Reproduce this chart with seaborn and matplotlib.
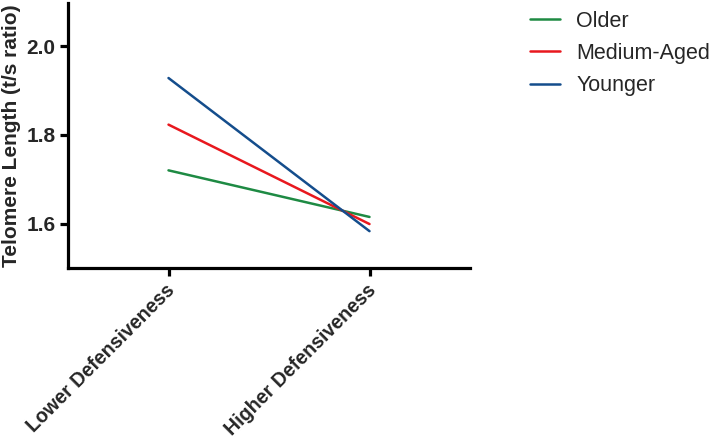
import matplotlib
matplotlib.use("Agg")
import matplotlib.pyplot as plt
import matplotlib.transforms as mtransforms
import seaborn as sns
import pandas as pd

categories = ["Lower Defensiveness", "Higher Defensiveness"]
groups = ["Older", "Medium-Aged", "Younger"]
older = [1.720, 1.615]
medium = [1.823, 1.599]
younger = [1.928, 1.583]
yticks = [1.6, 1.8, 2.0]
colors = {"Older": "#1e8a43", "Medium-Aged": "#e8181e", "Younger": "#144d8c"}

rows = []
for g, vals in zip(groups, [older, medium, younger]):
    for i, (c, v) in enumerate(zip(categories, vals)):
        rows.append({"pos": i, "cat": c, "group": g, "value": v})
df = pd.DataFrame(rows)

sns.set_style("ticks")
plt.rcParams["font.family"] = ["Liberation Sans", "DejaVu Sans"]

fig = plt.figure(figsize=(7.15, 4.45), dpi=100)
ax = fig.add_axes([68/715, 1 - 268/445, (470 - 68)/715, (268 - 3)/445])

sns.lineplot(data=df, x="pos", y="value", hue="group", hue_order=groups,
             palette=colors, linewidth=1.8, ax=ax, legend=True)

ax.set_xlim(-0.5, 1.5)
ax.set_ylim(1.5, 2.097)
ax.set_xticks([0, 1])
ax.set_xticklabels(categories, rotation=45, ha="right", rotation_mode="anchor",
                   fontsize=14.1, fontweight="bold")
ax.set_yticks(yticks)
ax.set_yticklabels([f"{t:.1f}" for t in yticks], fontsize=15, fontweight="bold")
ax.set_xlabel("")
ax.set_ylabel("Telomere Length (t/s ratio)", fontsize=15, fontweight="bold", labelpad=4)

for s in ["top", "right"]:
    ax.spines[s].set_visible(False)
for s in ["left", "bottom"]:
    ax.spines[s].set_linewidth(2.3)
    ax.spines[s].set_color("black")
ax.tick_params(axis="y", length=6, width=2.3, color="black", direction="out", pad=3)
ax.tick_params(axis="x", length=6, width=2.3, color="black", direction="out", pad=3)

offset = mtransforms.ScaledTranslation(-3/100, 0, fig.dpi_scale_trans)
for lbl in ax.get_xticklabels():
    lbl.set_transform(lbl.get_transform() + offset)

ax.legend(loc="upper left", bbox_to_anchor=(0.741, 0.976), bbox_transform=fig.transFigure,
          frameon=False, fontsize=15.5, handlelength=1.4, handletextpad=0.75,
          labelspacing=0.52, borderaxespad=0, borderpad=0)

fig.savefig("out.png", dpi=100)
